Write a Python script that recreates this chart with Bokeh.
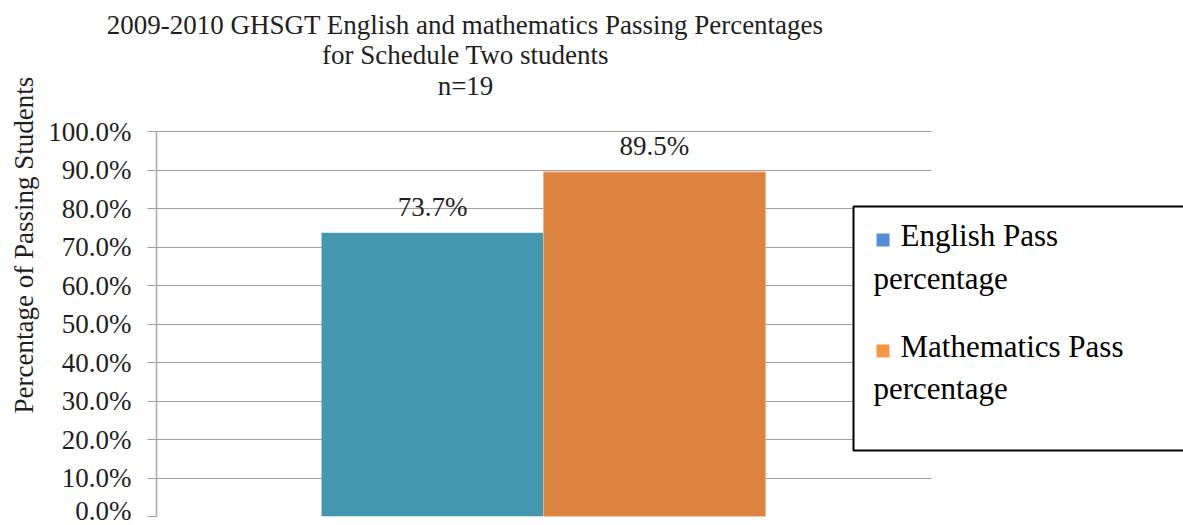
from bokeh.plotting import figure
from bokeh.models import (Range1d, FixedTicker, PrintfTickFormatter,
                          Label, BoxAnnotation, ColumnDataSource, Title)
from bokeh.core.properties import value
from bokeh.embed import file_html
from bokeh.resources import INLINE

# ---- data ----
category = ["2009-2010"]
series = ["English Pass percentage", "Mathematics Pass percentage"]
english_pct = [73.7]
math_pct = [89.5]
y_ticks = [0, 10, 20, 30, 40, 50, 60, 70, 80, 90, 100]
title_lines = ["2009-2010 GHSGT English and mathematics Passing Percentages",
               "for Schedule Two students",
               "n=19"]
y_label = "Percentage of Passing Students"

FONT = "Liberation Serif"
ENG_COLOR = "#4398B0"
MATH_COLOR = "#DC8340"
GRID = "#9e9e9e"
TXT = "#1e1e1e"

W, H = 1183, 525
FL = 156        # frame left (page px)
FT = 44         # frame top (page px)
FB = 516        # frame bottom (page px) == 0%
Y100 = 131      # page px of the 100% line
CAT_PX = 774    # width of the category band in px

px_per_unit = (FB - Y100) / 100.0
p = figure(width=W, height=H,
           x_range=Range1d(0, (W - FL) / CAT_PX),
           y_range=Range1d(0, (FB - FT) / px_per_unit),
           output_backend="svg", toolbar_location=None, title=None,
           min_border_left=FL, min_border_right=0, min_border_top=FT,
           min_border_bottom=H - FB)
p.outline_line_color = None
p.background_fill_color = "white"
p.border_fill_color = "white"

# category centre in range units (single category band 0..1)
cat_center = [i + 0.5 for i in range(len(category))]
bw = 0.2868
src_e = ColumnDataSource(dict(x=[c - bw / 2 for c in cat_center], y=english_pct,
                              t=[f"{v:.1f}%" for v in english_pct]))
src_m = ColumnDataSource(dict(x=[c + bw / 2 for c in cat_center], y=math_pct,
                              t=[f"{v:.1f}%" for v in math_pct]))

p.vbar(x="x", top="y", width=bw, source=src_e, fill_color=ENG_COLOR, line_color=None)
p.vbar(x="x", top="y", width=bw, source=src_m, fill_color=MATH_COLOR,
       line_color="#F2B27E", line_width=1)

for src in (src_e, src_m):
    p.text(x="x", y="y", text="t", source=src,
           text_font=value(FONT), text_font_size="27px", text_color=TXT,
           text_align="center", text_baseline="alphabetic", y_offset=-26)

# axes
p.xaxis.visible = False
p.xgrid.visible = False
p.yaxis.bounds = (0, 100)
p.yaxis.ticker = FixedTicker(ticks=y_ticks)
p.yaxis.formatter = PrintfTickFormatter(format="%.1f%%")
p.yaxis.major_label_text_font = FONT
p.yaxis.major_label_text_font_size = "27px"
p.yaxis.major_label_text_color = TXT
p.yaxis.axis_line_color = "#a8a8a8"
p.yaxis.axis_line_width = 1.5
p.yaxis.major_tick_line_color = GRID
p.yaxis.major_tick_in = 0
p.yaxis.major_tick_out = 9
p.yaxis.minor_tick_line_color = None
p.yaxis.major_label_standoff = 16
p.ygrid.ticker = FixedTicker(ticks=y_ticks)
p.ygrid.grid_line_color = GRID
p.ygrid.grid_line_width = 1.2

# y-axis title on the left side
p.add_layout(Title(text=y_label, align="left", offset=FB - 413, standoff=13,
                   text_font=FONT, text_font_size="27px", text_color=TXT,
                   text_font_style="normal"), "left")

# first title line as a real title above the plot area
TITLE_PX = 27
line1_w = 26.43 * TITLE_PX
p.add_layout(Title(text=title_lines[0], align="left", offset=465 - line1_w / 2 - FL - 2,
                   standoff=9, text_font=FONT, text_font_size=f"{TITLE_PX}px",
                   text_color=TXT, text_font_style="normal"), "above")

# page -> frame-relative screen helpers
def fx(px):
    return px - FL

def fy(py):
    return FB - py

def base_fix(size):
    return 0.38 * size

# grid stops at right edge of plot area: white mask beyond it
p.add_layout(BoxAnnotation(left=fx(931), left_units="screen",
                           fill_color="white", fill_alpha=1.0, line_color=None))

# remaining title lines
for line, base in zip(title_lines[1:], [65, 96]):
    p.add_layout(Label(x=fx(465), y=fy(base - base_fix(TITLE_PX)),
                       x_units="screen", y_units="screen",
                       text=line, text_font=FONT, text_font_size=f"{TITLE_PX}px",
                       text_color=TXT, text_align="center",
                       text_baseline="alphabetic"))

# legend box
p.add_layout(BoxAnnotation(left=fx(853), right=fx(1230), top=fy(206), bottom=fy(450),
                           left_units="screen", right_units="screen",
                           top_units="screen", bottom_units="screen",
                           fill_color="white", fill_alpha=1.0,
                           line_color="black", line_alpha=1.0, line_width=2))
for c, t, b in (("#558ED5", 233, 246), ("#F79646", 344, 357)):
    p.add_layout(BoxAnnotation(left=fx(876), right=fx(889), top=fy(t), bottom=fy(b),
                               left_units="screen", right_units="screen",
                               top_units="screen", bottom_units="screen",
                               fill_color=c, fill_alpha=1.0, line_color=None))
LEG_PX = 31
leg_lines = [(series[0].rsplit(" ", 1)[0], 900, 247), (series[0].rsplit(" ", 1)[1], 873, 290),
             (series[1].rsplit(" ", 1)[0], 900, 358), (series[1].rsplit(" ", 1)[1], 873, 400)]
for t, x, b in leg_lines:
    p.add_layout(Label(x=fx(x), y=fy(b - base_fix(LEG_PX)), x_units="screen", y_units="screen",
                       text=t, text_font=FONT, text_font_size=f"{LEG_PX}px",
                       text_color="black", text_align="left",
                       text_baseline="alphabetic"))

open("out.html", "w").write(file_html(p, INLINE))
